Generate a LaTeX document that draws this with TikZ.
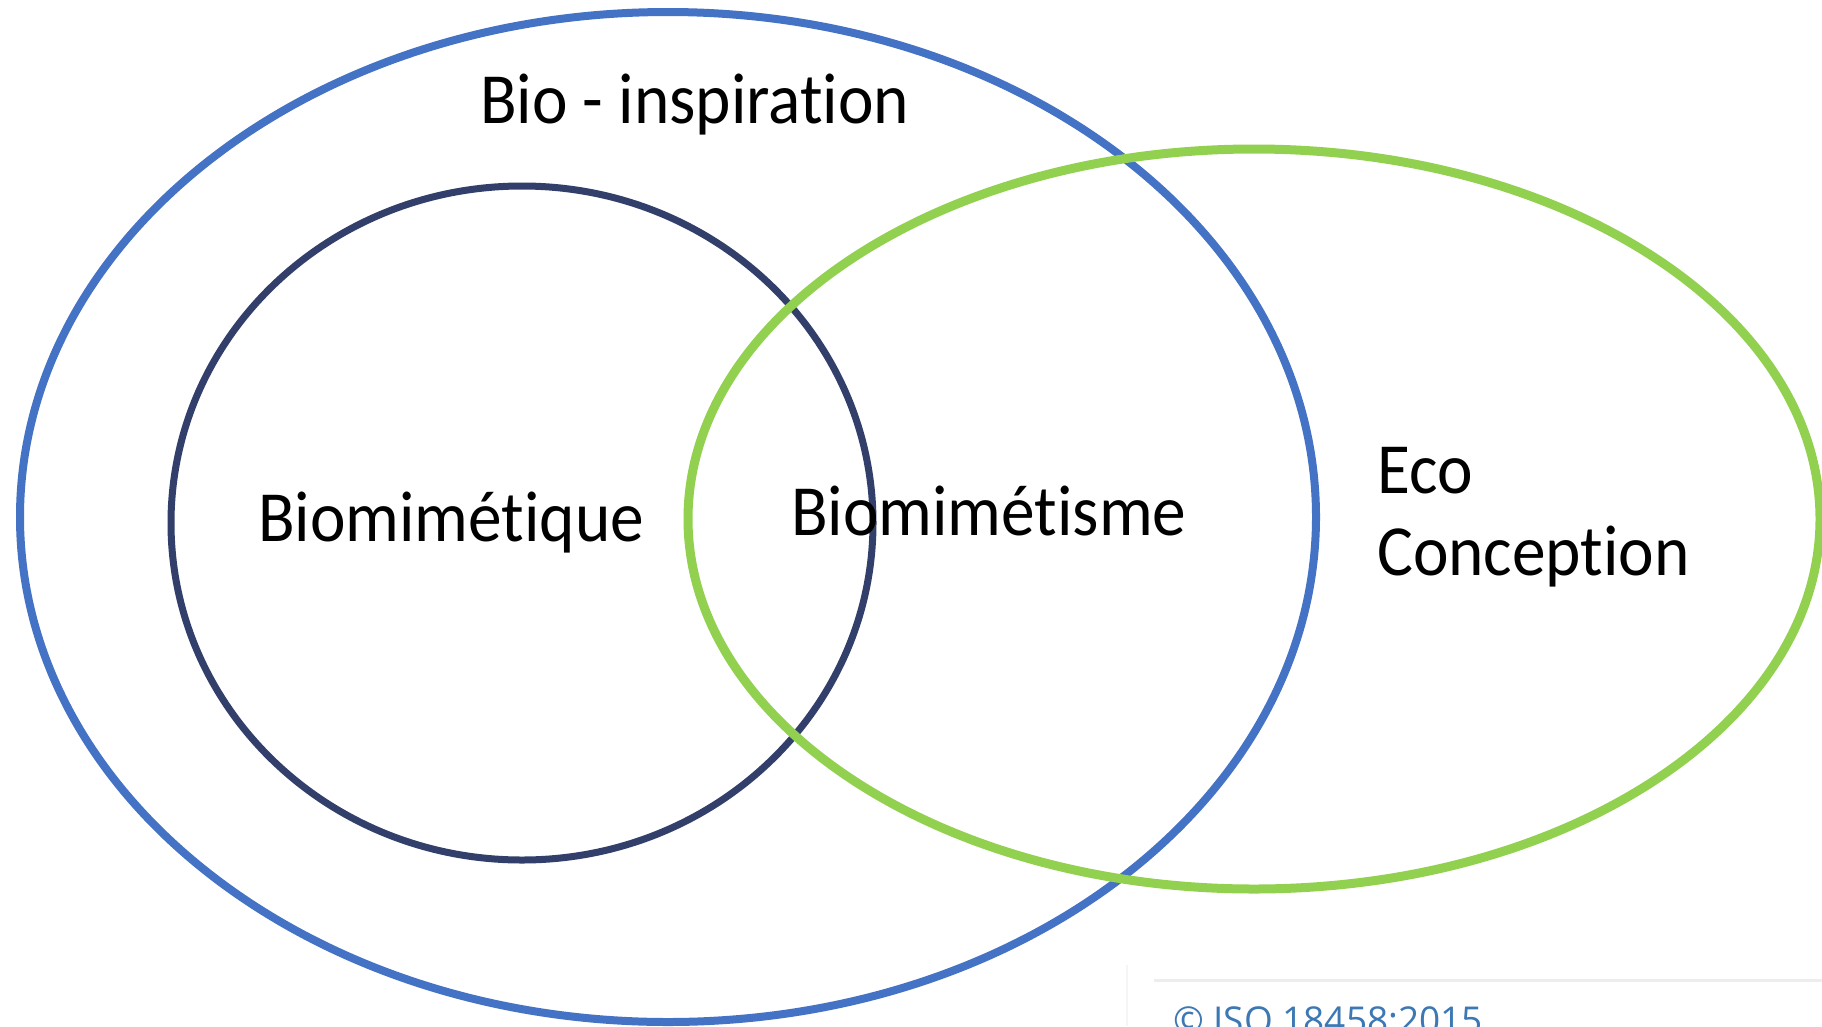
\documentclass[tikz,border=0pt]{standalone}
\usepackage{fontspec}
\setmainfont{Carlito}[Ligatures={NoCommon}]
\newfontfamily\isofont{Open Sans}
\usepackage{tikz}
\usetikzlibrary{positioning}
\definecolor{bioblue}{HTML}{4472C4}
\definecolor{mimnavy}{HTML}{323F6B}
\definecolor{ecogreen}{HTML}{92D050}
\definecolor{isoblue}{HTML}{3C78B4}
\tikzstyle{venn}=[line width=8pt]
\tikzstyle{lbl}=[inner sep=0pt, anchor=base west, font=\fontsize{72}{84}\selectfont, xscale=0.935]
\tikzstyle{isolbl}=[inner sep=0pt, anchor=base west, text=isoblue, font=\isofont\fontsize{37}{42}\selectfont]

\begin{document}
\begin{tikzpicture}[x=1pt, y=-1pt]
\fill[white] (0,0) rectangle (1822,1026);
\useasboundingbox (0,0) rectangle (1822,1026);
\coordinate (cbio) at (668,517);
\coordinate (cmim) at (522,523);
\coordinate (ceco) at (1254,519);
\draw[venn, bioblue] (cbio) ellipse [x radius=648, y radius=505];
\draw[venn, mimnavy, line width=7pt] (cmim) ellipse [x radius=351, y radius=337];
\draw[venn, ecogreen, line width=9pt] (ceco) ellipse [x radius=566, y radius=370];
\node[lbl] (bioinsp) at (480,123) {Bio - inspiration};
\node[lbl] (biomimq) at (258,541) {Biomimétique};
\node[lbl] (biomims) at (791,535) {Biomimétisme};
\node[lbl] (eco) at (1377,493) {Eco};
\node[lbl] (concep) at (1377,575) {Conception};
% reste de la legende ISO
\draw[black!7, line width=3pt] (1154,980) -- (1822,980);
\draw[black!4, line width=1.5pt] (1127,965) -- (1127,1026);
\node[isolbl] (iso) at (1173,1033) {© ISO 18458:2015};
\end{tikzpicture}
\end{document}
